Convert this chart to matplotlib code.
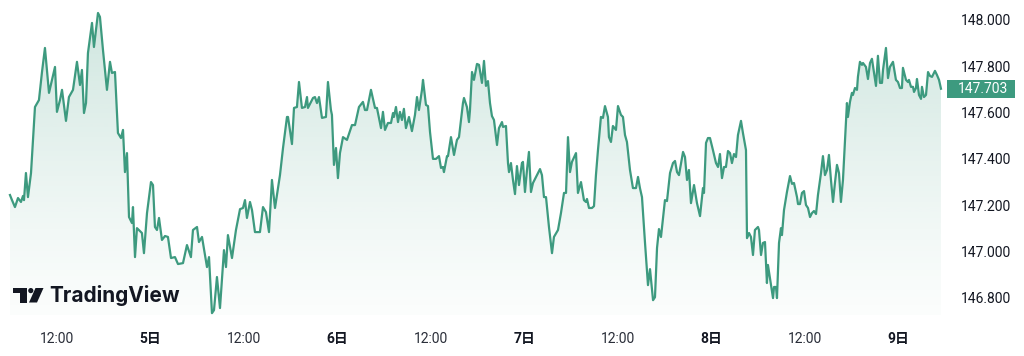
import matplotlib
matplotlib.use("Agg")
import matplotlib.pyplot as plt
import numpy as np
from matplotlib.transforms import blended_transform_factory, Affine2D
from matplotlib.patches import Rectangle, Polygon, Circle

# ---- data (hours since day-4 00:00, price) ----
hours = [
    6.00, 6.26, 6.64, 7.03, 7.41, 7.67, 7.80, 8.05, 8.31, 8.70,
    8.95, 9.21, 9.72, 10.11, 10.49, 11.01, 11.78, 12.03, 12.42, 12.68,
    13.19, 13.57, 14.09, 14.60, 14.99, 15.24, 15.50, 15.76, 16.01, 16.53,
    16.78, 17.30, 17.55, 17.94, 18.45, 18.84, 19.09, 19.48, 19.86, 20.25,
    20.51, 20.76, 21.02, 21.28, 21.66, 21.79, 22.05, 22.30, 22.94, 23.20,
    23.59, 24.10, 24.36, 24.61, 24.87, 25.13, 25.51, 25.90, 26.28, 26.67,
    27.18, 27.57, 28.21, 28.72, 29.23, 29.49, 30.01, 30.26, 30.65, 31.29,
    31.55, 31.93, 32.19, 32.57, 32.96, 33.47, 33.73, 33.98, 34.50, 35.01,
    35.53, 35.91, 36.17, 36.42, 36.81, 37.07, 37.45, 38.09, 38.48, 38.86,
    39.25, 39.63, 40.02, 40.66, 41.05, 41.56, 41.69, 42.20, 42.46, 42.84,
    43.10, 43.48, 43.87, 44.13, 44.25, 44.90, 45.15, 45.41, 45.67, 46.05,
    46.56, 46.82, 47.20, 47.33, 47.59, 47.85, 48.10, 48.36, 48.75, 49.26,
    49.90, 50.29, 50.80, 51.31, 51.57, 51.83, 52.34, 52.86, 53.11, 53.63,
    53.88, 54.14, 54.52, 54.91, 55.17, 55.29, 55.55, 55.81, 56.06, 56.32,
    56.57, 56.83, 57.22, 57.60, 57.99, 58.25, 58.50, 58.89, 59.02, 59.40,
    59.66, 59.92, 60.30, 60.69, 61.07, 61.33, 61.58, 61.71, 62.10, 62.23,
    62.61, 63.00, 63.38, 63.64, 64.15, 64.28, 64.66, 64.92, 65.05, 65.31,
    65.56, 65.95, 66.21, 66.59, 66.85, 67.10, 67.36, 67.62, 67.87, 68.13,
    68.52, 68.77, 69.16, 69.29, 69.67, 69.93, 70.06, 70.31, 70.57, 70.83,
    71.08, 71.34, 71.72, 71.85, 72.11, 72.37, 72.62, 72.88, 73.14, 73.65,
    74.04, 74.29, 74.55, 74.81, 75.19, 75.58, 75.83, 76.35, 76.73, 77.12,
    77.38, 77.63, 77.89, 78.14, 78.66, 78.91, 79.30, 79.68, 79.94, 80.07,
    80.33, 80.71, 80.97, 81.22, 81.48, 81.86, 82.12, 82.38, 82.76, 82.89,
    83.15, 83.40, 83.79, 84.05, 84.43, 84.69, 84.95, 85.20, 85.59, 85.97,
    86.36, 86.62, 86.87, 87.13, 87.52, 87.90, 88.16, 88.55, 88.80, 89.06,
    89.31, 89.57, 90.08, 90.34, 90.73, 91.11, 91.37, 91.63, 91.88, 92.40,
    92.65, 92.91, 93.16, 93.42, 93.81, 94.19, 94.58, 94.96, 95.09, 95.35,
    95.60, 95.86, 96.24, 96.63, 96.89, 97.14, 97.40, 97.66, 97.91, 98.17,
    98.43, 98.68, 98.94, 99.20, 99.45, 99.84, 100.09, 100.48, 100.61, 100.87,
    101.12, 101.38, 101.63, 102.02, 102.15, 102.41, 102.66, 102.92, 103.17, 103.30,
    103.56, 103.95, 104.08, 104.33, 104.46, 104.72, 104.97, 105.10, 105.36, 105.74,
    106.13, 106.39, 106.64, 107.03, 107.16, 107.41, 107.67, 107.93, 108.18, 108.44,
    108.70, 108.95, 109.21, 109.47, 109.72, 110.11, 110.36, 110.62, 110.88, 111.13,
    111.39, 111.65, 111.90, 112.16, 112.42, 112.67, 112.93, 113.19, 113.44, 113.57,
    113.83, 114.08, 114.21, 114.47, 114.73, 114.85, 115.11, 115.37, 115.50, 115.88,
    116.14, 116.40, 116.65, 116.91, 117.17, 117.42, 117.68, 117.94, 118.07, 118.45,
    118.71, 118.96, 119.35, 119.73, 119.99, 120.25, 120.50, 120.63, 121.02, 121.27,
    121.40, 121.66, 121.92, 122.05, 122.30, 122.43, 122.69, 122.95, 123.07, 123.33,
    123.59, 123.85, 124.10, 124.36, 124.74, 125.00, 125.26, 125.51,
]

prices = [
    147.244, 147.222, 147.192, 147.231, 147.214, 147.240, 147.222, 147.339, 147.235, 147.339,
    147.482, 147.624, 147.654, 147.775, 147.879, 147.685, 147.797, 147.603, 147.654, 147.698,
    147.564, 147.667, 147.698, 147.819, 147.719, 147.784, 147.598, 147.641, 147.857, 147.987,
    147.883, 148.030, 148.013, 147.870, 147.698, 147.819, 147.771, 147.775, 147.512, 147.490,
    147.525, 147.343, 147.425, 147.149, 147.123, 147.192, 146.976, 147.101, 147.080, 146.993,
    147.166, 147.300, 147.287, 147.106, 147.093, 147.145, 147.050, 147.067, 147.063, 146.972,
    146.976, 146.946, 146.950, 147.028, 146.976, 147.093, 147.106, 147.041, 147.063, 146.933,
    146.976, 146.734, 146.747, 146.890, 146.756, 147.006, 146.933, 147.071, 146.972, 147.093,
    147.183, 147.188, 147.222, 147.145, 147.214, 147.179, 147.084, 147.084, 147.192, 147.170,
    147.084, 147.309, 147.188, 147.330, 147.447, 147.581, 147.581, 147.464, 147.620, 147.624,
    147.732, 147.620, 147.624, 147.667, 147.620, 147.663, 147.667, 147.641, 147.667, 147.577,
    147.581, 147.732, 147.611, 147.590, 147.374, 147.447, 147.317, 147.425, 147.494, 147.482,
    147.546, 147.546, 147.624, 147.646, 147.611, 147.611, 147.698, 147.620, 147.620, 147.533,
    147.603, 147.525, 147.555, 147.555, 147.598, 147.581, 147.624, 147.559, 147.603, 147.568,
    147.616, 147.533, 147.581, 147.520, 147.590, 147.667, 147.611, 147.698, 147.741, 147.633,
    147.628, 147.516, 147.400, 147.400, 147.412, 147.361, 147.365, 147.343, 147.412, 147.412,
    147.494, 147.417, 147.482, 147.494, 147.641, 147.663, 147.624, 147.559, 147.611, 147.775,
    147.741, 147.810, 147.806, 147.728, 147.823, 147.715, 147.736, 147.641, 147.585, 147.568,
    147.460, 147.533, 147.559, 147.538, 147.542, 147.382, 147.343, 147.382, 147.309, 147.248,
    147.369, 147.287, 147.382, 147.387, 147.257, 147.352, 147.430, 147.257, 147.296, 147.330,
    147.356, 147.330, 147.235, 147.235, 147.106, 146.993, 147.063, 147.093, 147.166, 147.253,
    147.253, 147.494, 147.343, 147.387, 147.425, 147.253, 147.300, 147.222, 147.214, 147.227,
    147.188, 147.188, 147.196, 147.330, 147.438, 147.581, 147.577, 147.628, 147.581, 147.494,
    147.473, 147.542, 147.525, 147.628, 147.590, 147.581, 147.503, 147.473, 147.352, 147.274,
    147.274, 147.322, 147.274, 147.235, 147.037, 146.855, 146.924, 146.790, 146.803, 147.015,
    147.097, 147.063, 147.222, 147.218, 147.339, 147.382, 147.391, 147.343, 147.330, 147.430,
    147.408, 147.309, 147.352, 147.209, 147.287, 147.209, 147.153, 147.274, 147.253, 147.469,
    147.490, 147.490, 147.438, 147.382, 147.365, 147.421, 147.317, 147.365, 147.365, 147.434,
    147.425, 147.382, 147.421, 147.408, 147.503, 147.564, 147.512, 147.438, 147.058, 147.080,
    147.063, 146.985, 147.093, 147.106, 147.093, 146.985, 147.037, 147.041, 146.864, 146.942,
    146.885, 146.799, 146.847, 146.847, 146.799, 147.037, 147.101, 147.071, 147.179, 147.257,
    147.326, 147.292, 147.296, 147.235, 147.205, 147.205, 147.253, 147.261, 147.201, 147.188,
    147.149, 147.166, 147.175, 147.162, 147.244, 147.339, 147.412, 147.330, 147.352, 147.417,
    147.309, 147.214, 147.296, 147.374, 147.339, 147.214, 147.309, 147.482, 147.641, 147.581,
    147.646, 147.685, 147.676, 147.706, 147.698, 147.754, 147.819, 147.806, 147.814, 147.797,
    147.745, 147.814, 147.832, 147.775, 147.715, 147.845, 147.728, 147.728, 147.784, 147.879,
    147.749, 147.797, 147.819, 147.741, 147.732, 147.706, 147.706, 147.793, 147.741, 147.732,
    147.741, 147.711, 147.711, 147.689, 147.706, 147.745, 147.676, 147.659, 147.711, 147.667,
    147.676, 147.775, 147.758, 147.754, 147.780, 147.762, 147.741, 147.703,
]

tick_hours = [12, 24, 36, 48, 60, 72, 84, 96, 108, 120]
tick_labels = ["12:00", "5日", "12:00", "6日", "12:00", "7日", "12:00", "8日", "12:00", "9日"]
y_ticks = [146.8, 147.0, 147.2, 147.4, 147.6, 147.8, 148.0]
last_price = 147.703

assert len(hours) == len(prices), (len(hours), len(prices))

LINE = "#3d9a7f"
W, H = 1024, 356

fig = plt.figure(figsize=(W / 100, H / 100), dpi=100)
fig.patch.set_facecolor("white")
ax = fig.add_axes([0, 41 / H, 950 / W, 315 / H])
ax.set_facecolor("white")

x = np.array(hours)
y = np.array(prices)
ax.set_xlim(4.72, 126.67)
ax.set_ylim(146.726, 148.086)

# gradient area fill
fill = ax.fill_between(x, y, 146.726, color="none", lw=0)
ymin, ymax = ax.get_ylim()
grad = np.linspace(1, 0, 256).reshape(-1, 1)
rgb = matplotlib.colors.to_rgb(LINE)
img = np.zeros((256, 1, 4))
img[..., 0], img[..., 1], img[..., 2] = rgb
img[..., 3] = 0.02 + 0.24 * grad ** 1.2
im = ax.imshow(img, aspect="auto", extent=[x[0], x[-1], ymin, ymax],
               origin="upper", zorder=1, interpolation="bilinear")
im.set_clip_path(fill.get_paths()[0], transform=ax.transData)
ax.plot(x, y, color=LINE, lw=1.6, zorder=2, solid_joinstyle="round")

for s in ax.spines.values():
    s.set_visible(False)

ax.yaxis.tick_right()
ax.set_yticks(y_ticks)
ax.set_yticklabels([f"{v:.3f}" for v in y_ticks])
ax.tick_params(axis="y", length=0, pad=8, labelsize=10, labelcolor="#131722")
for lab in ax.get_yticklabels():
    lab.set_family(["Roboto", "DejaVu Sans"])

ax.set_xticks(tick_hours)
ax.set_xticklabels(tick_labels)
ax.tick_params(axis="x", length=0, pad=12, labelsize=10, labelcolor="#131722")
for lab, txt in zip(ax.get_xticklabels(), tick_labels):
    lab.set_family(["Roboto", "Noto Sans CJK JP"])
    if "日" in txt:
        lab.set_fontweight("bold")
        lab.set_color("#131722")
    else:
        lab.set_color("#2a2e39")

# last price label
tr = blended_transform_factory(ax.transAxes, ax.transData)
box_h = 18 / 231.5
ax.add_patch(Rectangle((947 / 950, last_price - box_h / 2), 68 / 950, box_h,
                       transform=tr, clip_on=False, fc=LINE, ec="none", zorder=5))
ax.text(958 / 950, last_price, f"{last_price:.3f}", transform=tr, color="white",
        fontsize=10, va="center", ha="left", family=["Roboto", "DejaVu Sans"],
        zorder=6, clip_on=False)

# TradingView logo (decoration, figure pixel coords from top-left)
px = Affine2D().scale(1 / W, -1 / H).translate(0, 1) + fig.transFigure
fig.patches.append(Polygon([(13, 288), (27, 288), (27, 302.5), (20, 302.5), (20, 293.3), (13, 293.3)],
                           closed=True, fc="#131722", ec="none", transform=px))
fig.patches.append(Circle((30.8, 290.6), 2.6, fc="#131722", ec="none", transform=px))
fig.patches.append(Polygon([(35.5, 288), (43.5, 288), (37, 302.5), (29, 302.5)],
                           closed=True, fc="#131722", ec="none", transform=px))
fig.text(49 / W, 1 - 302.5 / H, "TradingView", fontsize=15, fontweight="bold",
         color="#131722", family=["Inter", "DejaVu Sans"], va="baseline", ha="left")

fig.savefig("out.png", dpi=100, facecolor="white")
